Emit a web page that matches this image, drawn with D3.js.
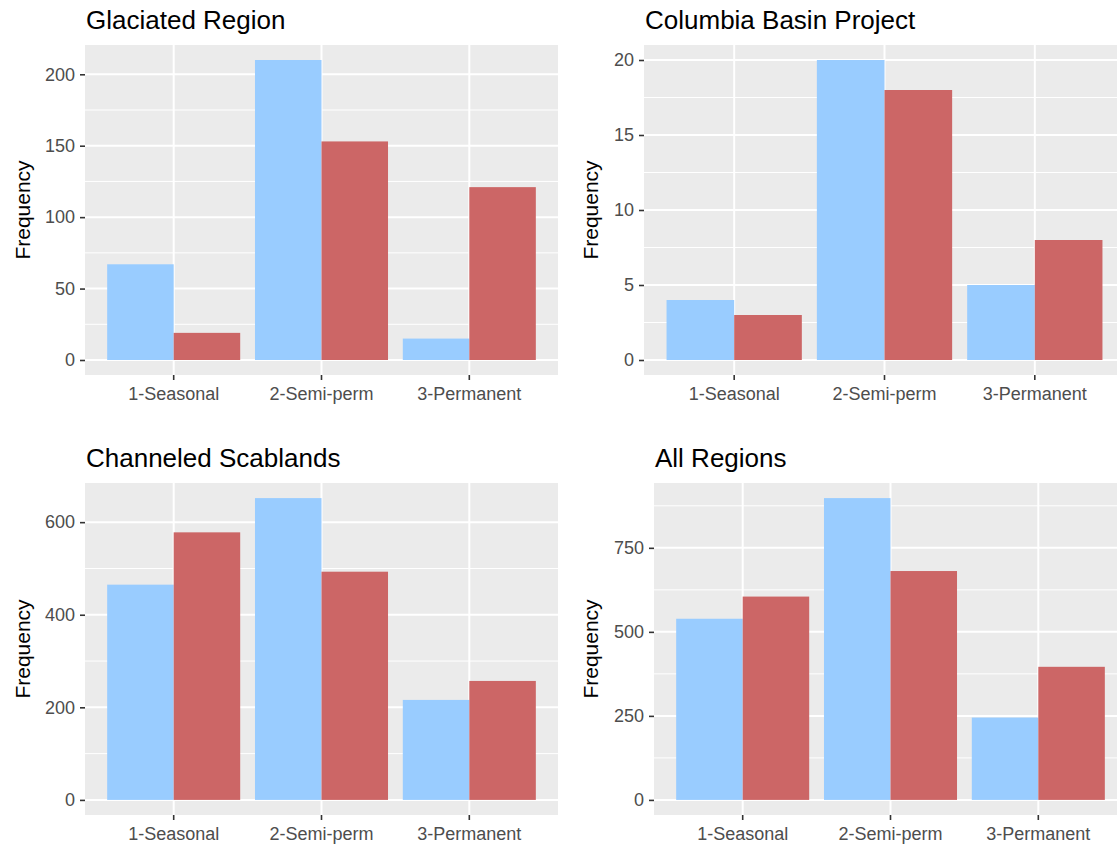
<!DOCTYPE html>
<html>
<head>
<meta charset="utf-8">
<script src="https://cdn.jsdelivr.net/npm/d3@7"></script>
<style>
  html, body { margin: 0; padding: 0; background: #ffffff; }
  svg { display: block; font-family: "Liberation Sans", Arial, sans-serif; }
</style>
</head>
<body>
<svg id="chart" width="1117" height="847"></svg>
<script>
// ---- data ----
const categories = ["1-Seasonal", "2-Semi-perm", "3-Permanent"];
const seriesNames = ["A", "B"];
const seriesColors = ["#99CCFF", "#CC6666"];

const panelTitles = ["Glaciated Region", "Columbia Basin Project", "Channeled Scablands", "All Regions"];

const glaciatedA = [67, 210, 15];
const glaciatedB = [19, 153, 121];
const columbiaA = [4, 20, 5];
const columbiaB = [3, 18, 8];
const channeledA = [465, 652, 216];
const channeledB = [578, 493, 257];
const allA = [539, 898, 245];
const allB = [605, 681, 396];

const ticksGlaciated = [0, 50, 100, 150, 200];
const ticksColumbia = [0, 5, 10, 15, 20];
const ticksChanneled = [0, 200, 400, 600];
const ticksAll = [0, 250, 500, 750];

const panelSeries = [
  [glaciatedA, glaciatedB],
  [columbiaA, columbiaB],
  [channeledA, channeledB],
  [allA, allB]
];
const panelTicks = [ticksGlaciated, ticksColumbia, ticksChanneled, ticksAll];

// ---- layout ----
const boxes = [
  { left: 85, right: 558, top: 45, bottom: 375, ylabX: 30 },
  { left: 644, right: 1125, top: 45, bottom: 375, ylabX: 598 },
  { left: 85, right: 558, top: 483, bottom: 815, ylabX: 30 },
  { left: 654, right: 1127, top: 483, bottom: 815, ylabX: 598 }
];

const svg = d3.select("#chart");

boxes.forEach((b, pi) => {
  const series = panelSeries[pi];
  const ticks = panelTicks[pi];
  const maxV = d3.max(series.flat());
  const g = svg.append("g");

  const x = d3.scaleBand().domain(categories).range([b.left, b.right])
    .paddingInner(0.1).paddingOuter(0.15);
  const xs = d3.scaleBand().domain(seriesNames).range([0, x.bandwidth()]).padding(0);
  const y = d3.scaleLinear().domain([-0.05 * maxV, 1.05 * maxV]).range([b.bottom, b.top]);

  // panel background
  g.append("rect").attr("x", b.left).attr("y", b.top)
    .attr("width", b.right - b.left).attr("height", b.bottom - b.top)
    .attr("fill", "#EBEBEB");

  // minor gridlines
  const step = ticks[1] - ticks[0];
  const minor = [];
  for (let v = ticks[0] - step / 2; v <= 1.05 * maxV; v += step) {
    if (v >= -0.05 * maxV) minor.push(v);
  }
  g.selectAll(".minor").data(minor).enter().append("line")
    .attr("x1", b.left).attr("x2", b.right)
    .attr("y1", d => y(d)).attr("y2", d => y(d))
    .attr("stroke", "#ffffff").attr("stroke-width", 1);

  // major gridlines
  g.selectAll(".majorY").data(ticks).enter().append("line")
    .attr("x1", b.left).attr("x2", b.right)
    .attr("y1", d => y(d)).attr("y2", d => y(d))
    .attr("stroke", "#ffffff").attr("stroke-width", 2);
  g.selectAll(".majorX").data(categories).enter().append("line")
    .attr("x1", d => x(d) + x.bandwidth() / 2).attr("x2", d => x(d) + x.bandwidth() / 2)
    .attr("y1", b.top).attr("y2", b.bottom)
    .attr("stroke", "#ffffff").attr("stroke-width", 2);

  // bars
  seriesNames.forEach((s, si) => {
    g.selectAll(".bar" + si).data(series[si]).enter().append("rect")
      .attr("x", (d, i) => x(categories[i]) + xs(s))
      .attr("width", xs.bandwidth())
      .attr("y", d => y(d))
      .attr("height", d => y(0) - y(d))
      .attr("fill", seriesColors[si]);
  });

  // y axis
  const ya = g.append("g").attr("transform", `translate(${b.left},0)`)
    .call(d3.axisLeft(y).tickValues(ticks).tickSize(5).tickPadding(5));
  ya.select(".domain").remove();
  ya.selectAll("line").attr("stroke", "#333333").attr("stroke-width", 1.6);
  ya.selectAll("text").attr("fill", "#4D4D4D").style("font-size", "18px")
    .style("font-family", '"Liberation Sans", Arial, sans-serif');

  // x axis
  const xa = g.append("g").attr("transform", `translate(0,${b.bottom})`)
    .call(d3.axisBottom(x).tickSize(5).tickPadding(7));
  xa.select(".domain").remove();
  xa.selectAll("line").attr("stroke", "#333333").attr("stroke-width", 1.6);
  xa.selectAll("text").attr("fill", "#4D4D4D").style("font-size", "18px")
    .style("font-family", '"Liberation Sans", Arial, sans-serif');

  // titles
  g.append("text").attr("x", b.left + 1).attr("y", b.top - 16)
    .attr("fill", "#000000").style("font-size", "26px")
    .text(panelTitles[pi]);

  // y axis title
  g.append("text")
    .attr("transform", `translate(${b.ylabX},${(b.top + b.bottom) / 2}) rotate(-90)`)
    .attr("text-anchor", "middle")
    .attr("fill", "#000000").style("font-size", "21px")
    .text("Frequency");
});
</script>
</body>
</html>
